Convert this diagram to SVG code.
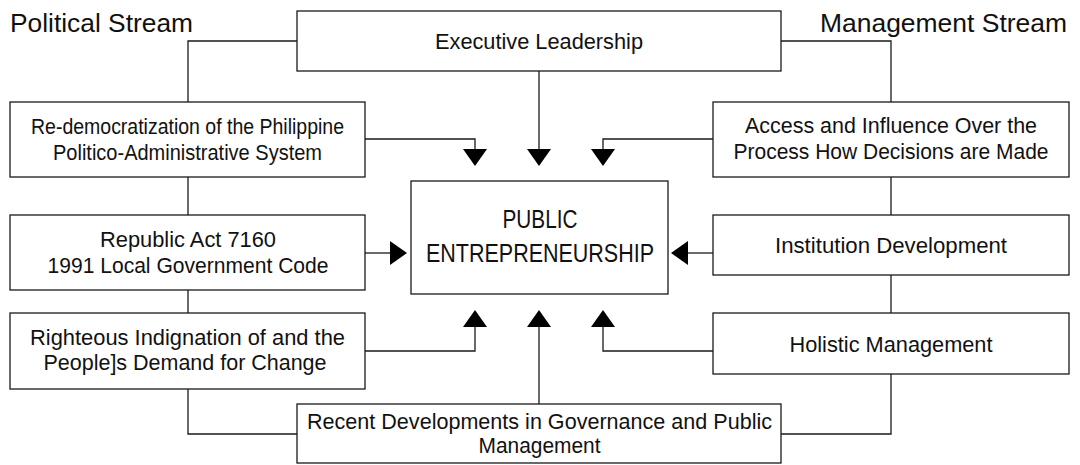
<svg xmlns="http://www.w3.org/2000/svg" width="1080" height="465" viewBox="0 0 1080 465">
  <style>
    .box { fill: #ffffff; stroke: #1a1a1a; stroke-width: 1.3; }
    .wire { fill: none; stroke: #1a1a1a; stroke-width: 1.3; }
    .head { fill: #000000; stroke: none; }
    .lbl { font-family: "Liberation Sans", Arial, sans-serif; font-size: 22px; fill: #111111; text-anchor: middle; }
    .big { font-family: "Liberation Sans", Arial, sans-serif; font-size: 25px; fill: #111111; text-anchor: middle; }
    .stream { font-family: "Liberation Sans", Arial, sans-serif; font-size: 26px; fill: #111111; }
  </style>
  <rect width="1080" height="465" fill="#ffffff"/>

  <!-- stream headings -->
  <text class="stream" x="10" y="32" textLength="183" lengthAdjust="spacingAndGlyphs">Political Stream</text>
  <text class="stream" x="1067" y="32" text-anchor="end" textLength="247" lengthAdjust="spacingAndGlyphs">Management Stream</text>

  <!-- connectors -->
  <g id="connectors">
    <!-- political stream spine -->
    <polyline class="wire" points="297,41 188,41 188,102"/>
    <line class="wire" x1="188" y1="177" x2="188" y2="215"/>
    <line class="wire" x1="188" y1="290" x2="188" y2="313"/>
    <polyline class="wire" points="188,389 188,434 297,434"/>
    <!-- management stream spine -->
    <polyline class="wire" points="781,41 891,41 891,102"/>
    <line class="wire" x1="891" y1="177" x2="891" y2="215"/>
    <line class="wire" x1="891" y1="275" x2="891" y2="313"/>
    <polyline class="wire" points="891,374 891,434 781,434"/>
    <!-- feeds into the centre -->
    <line class="wire" x1="539" y1="71" x2="539" y2="150"/>
    <polyline class="wire" points="365,139 475,139 475,150"/>
    <polyline class="wire" points="713,139 603,139 603,150"/>
    <line class="wire" x1="365" y1="253" x2="391" y2="253"/>
    <line class="wire" x1="688" y1="253" x2="713" y2="253"/>
    <polyline class="wire" points="365,351 475,351 475,326"/>
    <polyline class="wire" points="713,351 603,351 603,326"/>
    <line class="wire" x1="539" y1="404" x2="539" y2="326"/>
    <!-- arrowheads -->
    <polygon class="head" points="463,149 487,149 475,166"/>
    <polygon class="head" points="527,149 551,149 539,166"/>
    <polygon class="head" points="591,149 615,149 603,166"/>
    <polygon class="head" points="390,241 390,265 407,253"/>
    <polygon class="head" points="688,241 688,265 671,253"/>
    <polygon class="head" points="463,327 487,327 475,310"/>
    <polygon class="head" points="527,327 551,327 539,310"/>
    <polygon class="head" points="591,327 615,327 603,310"/>
  </g>

  <g id="executive-leadership">
    <rect class="box" x="297" y="11" width="484" height="60"/>
    <text class="lbl" x="539" y="49" textLength="208" lengthAdjust="spacingAndGlyphs">Executive Leadership</text>
  </g>

  <g id="public-entrepreneurship">
    <rect class="box" x="411" y="181" width="257" height="113"/>
    <text class="big" x="540" y="228" textLength="75" lengthAdjust="spacingAndGlyphs">PUBLIC</text>
    <text class="big" x="540" y="262" textLength="228" lengthAdjust="spacingAndGlyphs">ENTREPRENEURSHIP</text>
  </g>

  <g id="redemocratization">
    <rect class="box" x="10" y="102" width="355" height="75"/>
    <text class="lbl" x="187.5" y="134" textLength="313" lengthAdjust="spacingAndGlyphs">Re-democratization of the Philippine</text>
    <text class="lbl" x="187.5" y="160" textLength="269" lengthAdjust="spacingAndGlyphs">Politico-Administrative System</text>
  </g>

  <g id="republic-act">
    <rect class="box" x="10" y="215" width="355" height="75"/>
    <text class="lbl" x="188" y="247" textLength="176" lengthAdjust="spacingAndGlyphs">Republic Act 7160</text>
    <text class="lbl" x="188" y="273" textLength="281" lengthAdjust="spacingAndGlyphs">1991 Local Government Code</text>
  </g>

  <g id="righteous-indignation">
    <rect class="box" x="10" y="313" width="355" height="76"/>
    <text class="lbl" x="187.5" y="345" textLength="315" lengthAdjust="spacingAndGlyphs">Righteous Indignation of and the</text>
    <text class="lbl" x="185" y="370" textLength="283" lengthAdjust="spacingAndGlyphs">People]s Demand for Change</text>
  </g>

  <g id="access-influence">
    <rect class="box" x="713" y="102" width="356" height="75"/>
    <text class="lbl" x="891" y="133" textLength="292" lengthAdjust="spacingAndGlyphs">Access and Influence Over the</text>
    <text class="lbl" x="891" y="159" textLength="315" lengthAdjust="spacingAndGlyphs">Process How Decisions are Made</text>
  </g>

  <g id="institution-development">
    <rect class="box" x="713" y="215" width="356" height="60"/>
    <text class="lbl" x="891" y="253" textLength="232" lengthAdjust="spacingAndGlyphs">Institution Development</text>
  </g>

  <g id="holistic-management">
    <rect class="box" x="713" y="313" width="356" height="61"/>
    <text class="lbl" x="891" y="352" textLength="203" lengthAdjust="spacingAndGlyphs">Holistic Management</text>
  </g>

  <g id="recent-developments">
    <rect class="box" x="297" y="404" width="484" height="59"/>
    <text class="lbl" x="539.5" y="429" textLength="465" lengthAdjust="spacingAndGlyphs">Recent Developments in Governance and Public</text>
    <text class="lbl" x="539.5" y="453" textLength="122" lengthAdjust="spacingAndGlyphs">Management</text>
  </g>
</svg>
